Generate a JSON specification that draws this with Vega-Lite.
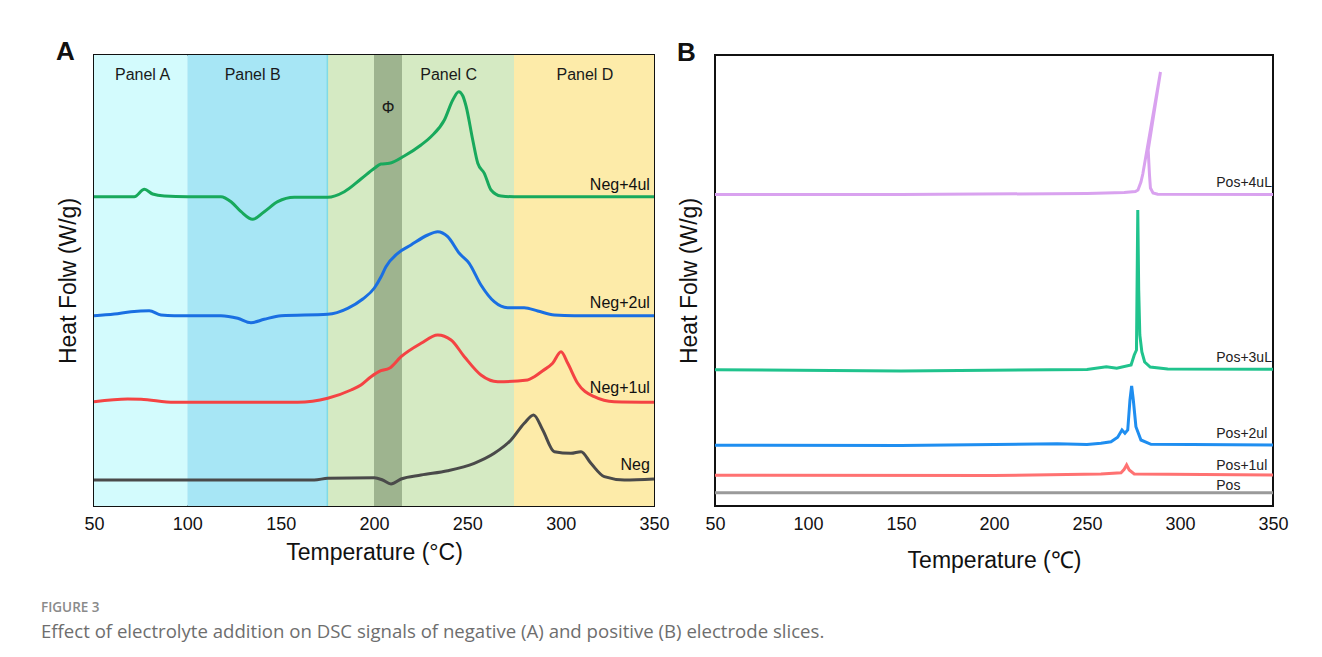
{
  "$schema": "https://vega.github.io/schema/vega-lite/v6.json",
  "background": "white",
  "padding": {"left": 41, "top": 38, "right": 5, "bottom": 5},
  "config": {
    "font": "Liberation Sans",
    "view": {"stroke": "#111111", "strokeWidth": 2},
    "axis": {"domain": false, "ticks": false, "grid": false, "labelFont": "Liberation Sans", "labelFontSize": 18, "labelColor": "#111111", "titleFont": "Liberation Sans", "titleFontSize": 23, "titleFontWeight": "normal", "titleColor": "#111111"},
    "title": {"font": "Liberation Sans"}
  },
  "resolve": {"scale": {"stroke": "independent"}},
  "title": {
    "text": "FIGURE 3",
    "subtitle": "Effect of electrolyte addition on DSC signals of negative (A) and positive (B) electrode slices.",
    "orient": "bottom",
    "anchor": "start",
    "frame": "bounds",
    "dx": -14,
    "offset": 28,
    "font": "Open Sans",
    "fontSize": 13.5,
    "fontWeight": 600,
    "color": "#8a8a8a",
    "subtitleFont": "Open Sans",
    "subtitleFontSize": 18.6,
    "subtitleColor": "#6e6e6e",
    "subtitlePadding": 8
  },
  "datasets": {
    "regions": [
      {"region": "Panel A", "t0": 50, "t1": 100},
      {"region": "Panel B", "t0": 100, "t1": 175},
      {"region": "Panel C", "t0": 175, "t1": 275},
      {"region": "Panel D", "t0": 275, "t1": 350},
      {"region": "Φ", "t0": 200, "t1": 215}
    ],
    "regionLabels": [
      {"label": "Panel A", "T": 76, "v": 43.1},
      {"label": "Panel B", "T": 135, "v": 43.1},
      {"label": "Panel C", "T": 240, "v": 43.1},
      {"label": "Panel D", "T": 313, "v": 43.1},
      {"label": "Φ", "T": 207.5, "v": 39.8}
    ],
    "negLabels": [
      {"label": "Neg+4ul", "T": 347.8, "v": 32.1},
      {"label": "Neg+2ul", "T": 347.8, "v": 20.3},
      {"label": "Neg+1ul", "T": 347.8, "v": 11.83},
      {"label": "Neg", "T": 347.8, "v": 4.1}
    ],
    "posLabels": [
      {"label": "Pos+4uL", "T": 319.5, "v": 32.33},
      {"label": "Pos+3uL", "T": 319.5, "v": 14.77},
      {"label": "Pos+2ul", "T": 319.5, "v": 7.2},
      {"label": "Pos+1ul", "T": 319.5, "v": 4.0},
      {"label": "Pos", "T": 319.5, "v": 2.03}
    ],
    "neg": [
      {"series": "Neg+4ul", "T": 50, "v": 30.93},
      {"series": "Neg+4ul", "T": 71.6, "v": 30.93},
      {"series": "Neg+4ul", "T": 77, "v": 31.67},
      {"series": "Neg+4ul", "T": 81.4, "v": 31.2},
      {"series": "Neg+4ul", "T": 87.7, "v": 31.0},
      {"series": "Neg+4ul", "T": 100, "v": 30.93},
      {"series": "Neg+4ul", "T": 118, "v": 30.93},
      {"series": "Neg+4ul", "T": 123.4, "v": 30.43},
      {"series": "Neg+4ul", "T": 128.8, "v": 29.43},
      {"series": "Neg+4ul", "T": 135, "v": 28.67},
      {"series": "Neg+4ul", "T": 141.2, "v": 29.43},
      {"series": "Neg+4ul", "T": 148.4, "v": 30.43},
      {"series": "Neg+4ul", "T": 157.3, "v": 30.87},
      {"series": "Neg+4ul", "T": 175.2, "v": 30.87},
      {"series": "Neg+4ul", "T": 184.1, "v": 31.43},
      {"series": "Neg+4ul", "T": 193, "v": 32.7},
      {"series": "Neg+4ul", "T": 200.2, "v": 33.77},
      {"series": "Neg+4ul", "T": 203.7, "v": 34.2},
      {"series": "Neg+4ul", "T": 208.2, "v": 34.27},
      {"series": "Neg+4ul", "T": 216.2, "v": 35.0},
      {"series": "Neg+4ul", "T": 225.2, "v": 36.1},
      {"series": "Neg+4ul", "T": 230.5, "v": 36.93},
      {"series": "Neg+4ul", "T": 237.7, "v": 38.6},
      {"series": "Neg+4ul", "T": 242.2, "v": 40.6},
      {"series": "Neg+4ul", "T": 245.4, "v": 41.43},
      {"series": "Neg+4ul", "T": 247.6, "v": 41.0},
      {"series": "Neg+4ul", "T": 249.3, "v": 40.0},
      {"series": "Neg+4ul", "T": 252.9, "v": 36.6},
      {"series": "Neg+4ul", "T": 255.6, "v": 34.27},
      {"series": "Neg+4ul", "T": 259.1, "v": 33.27},
      {"series": "Neg+4ul", "T": 262.7, "v": 31.6},
      {"series": "Neg+4ul", "T": 268, "v": 31.0},
      {"series": "Neg+4ul", "T": 275.2, "v": 30.93},
      {"series": "Neg+4ul", "T": 350, "v": 30.93},
      {"series": "Neg+2ul", "T": 50, "v": 19.03},
      {"series": "Neg+2ul", "T": 60.9, "v": 19.2},
      {"series": "Neg+2ul", "T": 69.8, "v": 19.43},
      {"series": "Neg+2ul", "T": 79.6, "v": 19.53},
      {"series": "Neg+2ul", "T": 85.9, "v": 19.1},
      {"series": "Neg+2ul", "T": 93, "v": 19.03},
      {"series": "Neg+2ul", "T": 118, "v": 19.03},
      {"series": "Neg+2ul", "T": 127, "v": 18.77},
      {"series": "Neg+2ul", "T": 134.1, "v": 18.33},
      {"series": "Neg+2ul", "T": 141.2, "v": 18.67},
      {"series": "Neg+2ul", "T": 150.2, "v": 19.03},
      {"series": "Neg+2ul", "T": 175.2, "v": 19.17},
      {"series": "Neg+2ul", "T": 185.9, "v": 19.77},
      {"series": "Neg+2ul", "T": 194, "v": 20.7},
      {"series": "Neg+2ul", "T": 200.2, "v": 21.8},
      {"series": "Neg+2ul", "T": 203.7, "v": 22.9},
      {"series": "Neg+2ul", "T": 206.4, "v": 23.93},
      {"series": "Neg+2ul", "T": 212.7, "v": 25.27},
      {"series": "Neg+2ul", "T": 219.8, "v": 26.1},
      {"series": "Neg+2ul", "T": 228.8, "v": 27.1},
      {"series": "Neg+2ul", "T": 234.1, "v": 27.43},
      {"series": "Neg+2ul", "T": 239.5, "v": 26.93},
      {"series": "Neg+2ul", "T": 245.7, "v": 25.27},
      {"series": "Neg+2ul", "T": 251, "v": 24.27},
      {"series": "Neg+2ul", "T": 257.3, "v": 22.1},
      {"series": "Neg+2ul", "T": 264.4, "v": 20.43},
      {"series": "Neg+2ul", "T": 271.6, "v": 19.83},
      {"series": "Neg+2ul", "T": 280.5, "v": 19.83},
      {"series": "Neg+2ul", "T": 287.7, "v": 19.5},
      {"series": "Neg+2ul", "T": 296.6, "v": 19.1},
      {"series": "Neg+2ul", "T": 307.3, "v": 19.03},
      {"series": "Neg+2ul", "T": 350, "v": 19.03},
      {"series": "Neg+1ul", "T": 50, "v": 10.43},
      {"series": "Neg+1ul", "T": 68, "v": 10.7},
      {"series": "Neg+1ul", "T": 75.2, "v": 10.67},
      {"series": "Neg+1ul", "T": 93, "v": 10.37},
      {"series": "Neg+1ul", "T": 159.1, "v": 10.37},
      {"series": "Neg+1ul", "T": 175.2, "v": 10.77},
      {"series": "Neg+1ul", "T": 187.7, "v": 11.6},
      {"series": "Neg+1ul", "T": 193, "v": 12.1},
      {"series": "Neg+1ul", "T": 198.4, "v": 12.93},
      {"series": "Neg+1ul", "T": 203.7, "v": 13.53},
      {"series": "Neg+1ul", "T": 208.2, "v": 13.77},
      {"series": "Neg+1ul", "T": 214.5, "v": 14.93},
      {"series": "Neg+1ul", "T": 225.2, "v": 16.27},
      {"series": "Neg+1ul", "T": 234.1, "v": 17.1},
      {"series": "Neg+1ul", "T": 241.3, "v": 16.6},
      {"series": "Neg+1ul", "T": 248.4, "v": 14.93},
      {"series": "Neg+1ul", "T": 257.3, "v": 13.1},
      {"series": "Neg+1ul", "T": 266.3, "v": 12.43},
      {"series": "Neg+1ul", "T": 282.3, "v": 12.6},
      {"series": "Neg+1ul", "T": 285.9, "v": 12.93},
      {"series": "Neg+1ul", "T": 290.4, "v": 13.53},
      {"series": "Neg+1ul", "T": 295.7, "v": 14.27},
      {"series": "Neg+1ul", "T": 300.2, "v": 15.43},
      {"series": "Neg+1ul", "T": 303.8, "v": 14.27},
      {"series": "Neg+1ul", "T": 309.1, "v": 12.27},
      {"series": "Neg+1ul", "T": 318, "v": 10.93},
      {"series": "Neg+1ul", "T": 328.7, "v": 10.43},
      {"series": "Neg+1ul", "T": 350, "v": 10.37},
      {"series": "Neg", "T": 50, "v": 2.6},
      {"series": "Neg", "T": 168, "v": 2.6},
      {"series": "Neg", "T": 175.2, "v": 2.77},
      {"series": "Neg", "T": 200.2, "v": 2.83},
      {"series": "Neg", "T": 204.6, "v": 2.6},
      {"series": "Neg", "T": 209.1, "v": 2.2},
      {"series": "Neg", "T": 214.5, "v": 2.7},
      {"series": "Neg", "T": 225.2, "v": 3.1},
      {"series": "Neg", "T": 239.5, "v": 3.53},
      {"series": "Neg", "T": 253.7, "v": 4.27},
      {"series": "Neg", "T": 264.4, "v": 5.27},
      {"series": "Neg", "T": 273.4, "v": 6.6},
      {"series": "Neg", "T": 280.5, "v": 8.27},
      {"series": "Neg", "T": 285.5, "v": 9.1},
      {"series": "Neg", "T": 290.4, "v": 7.6},
      {"series": "Neg", "T": 296.6, "v": 5.43},
      {"series": "Neg", "T": 305.5, "v": 5.27},
      {"series": "Neg", "T": 310.9, "v": 5.43},
      {"series": "Neg", "T": 316.2, "v": 4.27},
      {"series": "Neg", "T": 323.4, "v": 2.93},
      {"series": "Neg", "T": 334.1, "v": 2.6},
      {"series": "Neg", "T": 350, "v": 2.7}
    ],
    "pos": [
      {"series": "Pos+4uL", "i": 1, "T": 50, "v": 31.15},
      {"series": "Pos+4uL", "i": 2, "T": 150, "v": 31.15},
      {"series": "Pos+4uL", "i": 3, "T": 250, "v": 31.25},
      {"series": "Pos+4uL", "i": 4, "T": 270, "v": 31.35},
      {"series": "Pos+4uL", "i": 5, "T": 276, "v": 31.45},
      {"series": "Pos+4uL", "i": 6, "T": 277.4, "v": 31.6},
      {"series": "Pos+4uL", "i": 7, "T": 279, "v": 32.4},
      {"series": "Pos+4uL", "i": 8, "T": 280, "v": 33.2},
      {"series": "Pos+4uL", "i": 9, "T": 289.5, "v": 43.4},
      {"series": "Pos+4uL", "i": 10, "T": 282.9, "v": 35.6},
      {"series": "Pos+4uL", "i": 11, "T": 283.6, "v": 33.1},
      {"series": "Pos+4uL", "i": 12, "T": 284.1, "v": 31.8},
      {"series": "Pos+4uL", "i": 13, "T": 285.5, "v": 31.3},
      {"series": "Pos+4uL", "i": 14, "T": 288, "v": 31.17},
      {"series": "Pos+4uL", "i": 15, "T": 350, "v": 31.15},
      {"series": "Pos+3uL", "i": 1, "T": 50, "v": 13.63},
      {"series": "Pos+3uL", "i": 2, "T": 150, "v": 13.5},
      {"series": "Pos+3uL", "i": 3, "T": 250, "v": 13.65},
      {"series": "Pos+3uL", "i": 4, "T": 260.4, "v": 13.93},
      {"series": "Pos+3uL", "i": 5, "T": 266, "v": 13.77},
      {"series": "Pos+3uL", "i": 6, "T": 273.7, "v": 14.1},
      {"series": "Pos+3uL", "i": 7, "T": 275.4, "v": 15.1},
      {"series": "Pos+3uL", "i": 8, "T": 276.6, "v": 15.6},
      {"series": "Pos+3uL", "i": 9, "T": 277.3, "v": 29.6},
      {"series": "Pos+3uL", "i": 10, "T": 277.8, "v": 21.6},
      {"series": "Pos+3uL", "i": 11, "T": 278.4, "v": 17.1},
      {"series": "Pos+3uL", "i": 12, "T": 279.5, "v": 15.4},
      {"series": "Pos+3uL", "i": 13, "T": 281, "v": 14.4},
      {"series": "Pos+3uL", "i": 14, "T": 284, "v": 13.9},
      {"series": "Pos+3uL", "i": 15, "T": 293.4, "v": 13.7},
      {"series": "Pos+3uL", "i": 16, "T": 350, "v": 13.67},
      {"series": "Pos+2ul", "i": 1, "T": 50, "v": 6.07},
      {"series": "Pos+2ul", "i": 2, "T": 150, "v": 6.05},
      {"series": "Pos+2ul", "i": 3, "T": 234, "v": 6.23},
      {"series": "Pos+2ul", "i": 4, "T": 250, "v": 6.15},
      {"series": "Pos+2ul", "i": 5, "T": 257.5, "v": 6.27},
      {"series": "Pos+2ul", "i": 6, "T": 262.9, "v": 6.43},
      {"series": "Pos+2ul", "i": 7, "T": 266.5, "v": 6.87},
      {"series": "Pos+2ul", "i": 8, "T": 268.8, "v": 7.6},
      {"series": "Pos+2ul", "i": 9, "T": 270.4, "v": 7.27},
      {"series": "Pos+2ul", "i": 10, "T": 271.9, "v": 7.6},
      {"series": "Pos+2ul", "i": 11, "T": 273.1, "v": 10.6},
      {"series": "Pos+2ul", "i": 12, "T": 274, "v": 12.0},
      {"series": "Pos+2ul", "i": 13, "T": 274.9, "v": 10.6},
      {"series": "Pos+2ul", "i": 14, "T": 276.3, "v": 7.93},
      {"series": "Pos+2ul", "i": 15, "T": 279, "v": 6.6},
      {"series": "Pos+2ul", "i": 16, "T": 284.4, "v": 6.17},
      {"series": "Pos+2ul", "i": 17, "T": 350, "v": 6.1},
      {"series": "Pos+1ul", "i": 1, "T": 50, "v": 3.07},
      {"series": "Pos+1ul", "i": 2, "T": 200, "v": 3.05},
      {"series": "Pos+1ul", "i": 3, "T": 257.5, "v": 3.2},
      {"series": "Pos+1ul", "i": 4, "T": 268.3, "v": 3.33},
      {"series": "Pos+1ul", "i": 5, "T": 270, "v": 3.67},
      {"series": "Pos+1ul", "i": 6, "T": 271.3, "v": 4.1},
      {"series": "Pos+1ul", "i": 7, "T": 272.7, "v": 3.6},
      {"series": "Pos+1ul", "i": 8, "T": 275.4, "v": 3.2},
      {"series": "Pos+1ul", "i": 9, "T": 350, "v": 3.1},
      {"series": "Pos", "i": 1, "T": 50, "v": 1.33},
      {"series": "Pos", "i": 2, "T": 350, "v": 1.33}
    ]
  },
  "bounds": "flush",
  "spacing": 61,
  "hconcat": [
    {
      "width": 560,
      "height": 451,
      "title": {"text": "A", "anchor": "start", "frame": "group", "dx": -38, "offset": -11, "fontSize": 26, "fontWeight": "bold", "color": "#111111"},
      "layer": [
        {
          "data": {"name": "regions"},
          "mark": {"type": "rect", "stroke": null},
          "encoding": {
            "x": {"field": "t0", "type": "quantitative", "scale": {"domain": [50, 350], "nice": false, "zero": false}, "axis": {"title": "Temperature (°C)", "values": [50, 100, 150, 200, 250, 300, 350], "labelFlush": false, "labelPadding": 9, "titlePadding": 8}},
            "x2": {"field": "t1"},
            "y": {"datum": 0, "type": "quantitative", "scale": {"domain": [0, 45.1], "nice": false, "zero": false}, "axis": {"title": "Heat Folw (W/g)", "labels": false, "titlePadding": 14}},
            "y2": {"datum": 45.1},
            "fill": {"field": "region", "type": "nominal", "scale": {"domain": ["Panel A", "Panel B", "Panel C", "Panel D", "Φ"], "range": ["#d3fbfd", "#a7e6f5", "#d5eac3", "#fdeba9", "#9eb48f"]}, "legend": null}
          }
        },
        {
          "data": {"values": [{"T": 175}]},
          "mark": {"type": "rule", "color": "#7fdbe6", "strokeWidth": 1.5},
          "encoding": {"x": {"field": "T", "type": "quantitative"}}
        },
        {
          "data": {"name": "neg"},
          "mark": {"type": "line", "strokeWidth": 3, "interpolate": "monotone"},
          "encoding": {
            "x": {"field": "T", "type": "quantitative"},
            "y": {"field": "v", "type": "quantitative"},
            "stroke": {"field": "series", "type": "nominal", "scale": {"domain": ["Neg+4ul", "Neg+2ul", "Neg+1ul", "Neg"], "range": ["#18a95c", "#1a6fe2", "#f44343", "#4a4a4a"]}, "legend": null}
          }
        },
        {
          "data": {"name": "regionLabels"},
          "mark": {"type": "text", "fontSize": 16, "color": "#1a1a1a", "baseline": "middle", "align": "center"},
          "encoding": {
            "x": {"field": "T", "type": "quantitative"},
            "y": {"field": "v", "type": "quantitative"},
            "text": {"field": "label"}
          }
        },
        {
          "data": {"name": "negLabels"},
          "mark": {"type": "text", "fontSize": 16, "color": "#111111", "baseline": "middle", "align": "right"},
          "encoding": {
            "x": {"field": "T", "type": "quantitative"},
            "y": {"field": "v", "type": "quantitative"},
            "text": {"field": "label"}
          }
        }
      ]
    },
    {
      "width": 558,
      "height": 451,
      "title": {"text": "B", "anchor": "start", "frame": "group", "dx": -38, "offset": -11, "fontSize": 26, "fontWeight": "bold", "color": "#111111"},
      "layer": [
        {
          "data": {"name": "pos"},
          "mark": {"type": "line", "strokeWidth": 3, "interpolate": "linear"},
          "encoding": {
            "x": {"field": "T", "type": "quantitative", "scale": {"domain": [50, 350], "nice": false, "zero": false}, "axis": {"title": "Temperature (℃)", "values": [50, 100, 150, 200, 250, 300, 350], "labelFlush": false, "labelPadding": 9, "titlePadding": 16}},
            "y": {"field": "v", "type": "quantitative", "scale": {"domain": [0, 45.1], "nice": false, "zero": false}, "axis": {"title": "Heat Folw (W/g)", "labels": false, "titlePadding": 14}},
            "order": {"field": "i", "type": "quantitative"},
            "stroke": {"field": "series", "type": "nominal", "scale": {"domain": ["Pos+4uL", "Pos+3uL", "Pos+2ul", "Pos+1ul", "Pos"], "range": ["#d9a2ef", "#20c38d", "#1f8ef0", "#ff7272", "#9a9a9a"]}, "legend": null}
          }
        },
        {
          "data": {"name": "posLabels"},
          "mark": {"type": "text", "fontSize": 14, "color": "#222222", "baseline": "middle", "align": "left"},
          "encoding": {
            "x": {"field": "T", "type": "quantitative"},
            "y": {"field": "v", "type": "quantitative"},
            "text": {"field": "label"}
          }
        }
      ]
    }
  ]
}
